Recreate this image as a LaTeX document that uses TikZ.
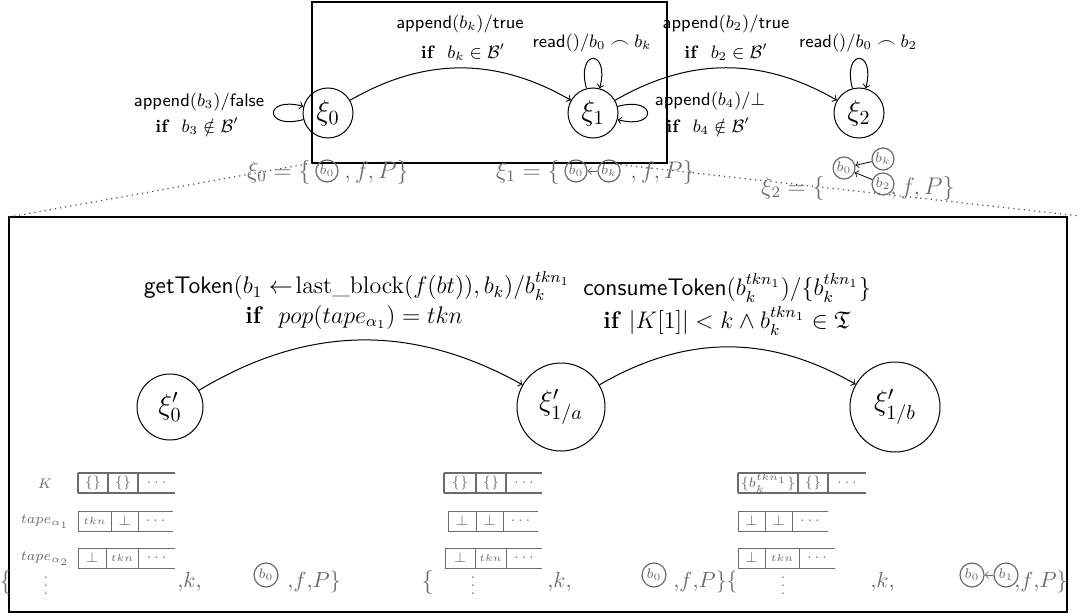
\documentclass[tikz,border=0pt]{standalone}
\usepackage{amssymb}
\definecolor{mygray}{gray}{0.42}
\newcommand{\tapeRow}[9]{%
  \draw[tapeline, line width=#8] (#1,#5-10) -- (#4,#5-10) (#1,#5+10) -- (#4,#5+10)
    (#1,#5-10) -- (#1,#5+10) (#2,#5-10) -- (#2,#5+10) (#3,#5-10) -- (#3,#5+10);
  \node[cell] (#9a) at ({(#1+#2)/2},#5) {#6};
  \node[cell] (#9b) at ({(#2+#3)/2},#5) {#7};
  \node[cell] (#9c) at ({(#3+#4)/2},#5) {$\dots$};
}
\begin{document}
\begin{tikzpicture}[x=0.5pt,y=-0.5pt,
  state/.style={circle,draw,line width=0.5pt,inner sep=0pt},
  topstate/.style={state,minimum size=25pt,font=\Large},
  bigstate/.style={state,font=\Large},
  toplab/.style={font=\small,inner sep=0pt},
  botlab/.style={font=\large,inner sep=0pt},
  setlab/.style={font=\large,text=mygray,inner sep=0pt},
  bsetlab/.style={font=\fontsize{10.95}{13}\selectfont,text=mygray,inner sep=0pt},
  mini/.style={circle,draw=mygray,text=mygray,line width=0.6pt,minimum size=11pt,inner sep=0pt,font=\scriptsize},
  bmini/.style={mini,minimum size=12pt},
  tapeline/.style={draw=mygray},
  cell/.style={text=mygray,font=\scriptsize,inner sep=0pt},
  tapelab/.style={text=mygray,font=\scriptsize,inner sep=0pt},
  frame/.style={line width=1.3pt},
  zoomline/.style={dotted,line width=0.6pt,draw=black!70},
  edge/.style={->,line width=0.5pt}
]
\useasboundingbox (0,0) rectangle (1080,615);

% frames and zoom lines
\draw[frame] (312,2) rectangle (667,163);
\draw[frame] (9,217) rectangle (1067,612);
\coordinate (zl1) at (312,163);
\coordinate (zl2) at (9,217);
\coordinate (zr1) at (605,163);
\coordinate (zr2) at (1080,216);
\draw[zoomline] (zl1) -- (zl2);
\draw[zoomline] (zr1) -- (zr2);

% top automaton
\node[topstate] (x0) at (328,113) {$\xi_0$};
\node[topstate] (x1) at (593,113) {$\xi_1$};
\node[topstate] (x2) at (859,113) {$\xi_2$};
\draw[edge] (x0) to[bend left=30] (x1);
\draw[edge] (x1) to[bend left=30] (x2);
\draw[edge] (x0) to[loop left] (x0);
\draw[edge] (x1) to[loop above] (x1);
\draw[edge] (x1) to[loop right] (x1);
\draw[edge] (x2) to[loop above] (x2);

\node[toplab] (l01a) at (460,24) {\textsf{append}$(b_k)/$\textsf{true}};
\node[toplab] (l01b) at (463,52) {\textbf{if}~~$b_k\in\mathcal{B}'$};
\node[toplab] (l00a) at (199,102) {\textsf{append}$(b_3)/$\textsf{false}};
\node[toplab] (l00b) at (197,126) {\textbf{if}~~$b_3\notin\mathcal{B}'$};
\node[toplab] (l11) at (592,43) {\textsf{read}$()/b_0\frown b_k$};
\node[toplab] (l12a) at (726,24) {\textsf{append}$(b_2)/$\textsf{true}};
\node[toplab] (l12b) at (726,52) {\textbf{if}~~$b_2\in\mathcal{B}'$};
\node[toplab] (l14a) at (710,101) {\textsf{append}$(b_4)/\bot$};
\node[toplab] (l14b) at (708,126) {\textbf{if}~~$b_4\notin\mathcal{B}'$};
\node[toplab] (l22) at (858,43) {\textsf{read}$()/b_0\frown b_2$};

% top state contents
\node[setlab,anchor=base east] (s0a) at (311,178) {$\xi_0=\{$};
\node[mini] (s0b0) at (327,171) {$b_0$};
\node[setlab,anchor=base west] (s0c) at (344,178) {$,f,P\}$};

\node[setlab,anchor=base east] (s1a) at (560,178) {$\xi_1=\{$};
\node[mini] (s1b0) at (576,171) {$b_0$};
\node[mini] (s1bk) at (609,171) {$b_k$};
\draw[->,mygray,line width=0.5pt] (s1bk) -- (s1b0);
\node[setlab,anchor=base west] (s1c) at (630,178) {$,f,P\}$};

\node[setlab,anchor=base east] (s2a) at (825,194) {$\xi_2=\{$};
\node[mini] (s2b0) at (844,168) {$b_0$};
\node[mini] (s2bk) at (883,159) {$b_k$};
\node[mini] (s2b2) at (883,184) {$b_2$};
\draw[->,line width=0.4pt] (s2bk) -- (s2b0);
\draw[->,line width=0.4pt] (s2b2) -- (s2b0);
\node[setlab,anchor=base east] (s2c) at (955,194) {$,f,P\}$};

% bottom automaton
\node[bigstate,minimum size=33pt] (y0) at (170,407) {$\xi'_0$};
\node[bigstate,minimum size=44pt] (y1) at (561,407) {$\xi'_{1/a}$};
\node[bigstate,minimum size=45pt] (y2) at (895,407) {$\xi'_{1/b}$};
\draw[edge] (y0) to[bend left=30] (y1);
\draw[edge] (y1) to[bend left=30] (y2);

\node[botlab] (e1a) at (357,286) {\textsf{getToken}$(b_1\leftarrow\!\mathrm{last\_block}(f(bt)),b_k)/b_k^{tkn_1}$};
\node[botlab] (e1b) at (354,317) {\textbf{if}~~$pop(tape_{\alpha_1})=tkn$};
\node[botlab] (e2a) at (727,288) {\textsf{consumeToken}$(b_k^{tkn_1})/\{b_k^{tkn_1}\}$};
\node[botlab] (e2b) at (727,321) {\textbf{if} $|K[1]|<k\wedge b_k^{tkn_1}\in\mathfrak{T}$};

% tape labels
\node[tapelab] (tlk) at (45,484) {$K$};
\node[tapelab] (tla1) at (45,522) {$tape_{\alpha_1}$};
\node[tapelab] (tla2) at (45,559) {$tape_{\alpha_2}$};
\node[tapelab] (tld) at (46,580) {$\vdots$};

% tapes column 1
\tapeRow{78}{108}{138}{175}{483}{$\{\}$}{$\{\}$}{0.9pt}{ka}
\tapeRow{78}{111}{138}{173}{521}{{\tiny$tkn$}}{$\bot$}{0.5pt}{pa}
\tapeRow{78}{106}{138}{175}{558}{$\bot$}{{\tiny$tkn$}}{0.5pt}{qa}
% tapes column 2
\tapeRow{444}{476}{506}{542}{483}{$\{\}$}{$\{\}$}{0.9pt}{kb}
\tapeRow{448}{476}{503}{538}{521}{$\bot$}{$\bot$}{0.5pt}{pb}
\tapeRow{445}{475}{506}{542}{558}{$\bot$}{{\tiny$tkn$}}{0.5pt}{qb}
\node[tapelab] (vdb) at (473,580) {$\vdots$};
% tapes column 3
\tapeRow{738}{798}{828}{866}{483}{$\{b_k^{tkn_1}\}$}{$\{\}$}{0.9pt}{kc}
\tapeRow{738}{765}{792}{828}{521}{$\bot$}{$\bot$}{0.5pt}{pc}
\tapeRow{738}{765}{799}{835}{558}{$\bot$}{{\tiny$tkn$}}{0.5pt}{qc}
\node[tapelab] (vdc) at (783,580) {$\vdots$};

% bottom state contents
\node[setlab,anchor=base east] (u0a) at (12,588) {$\{$};
\node[bsetlab,anchor=base west] (u0b) at (177,587) {${,}k{,}$};
\node[bmini] (u0c) at (266,575) {$b_0$};
\node[bsetlab,anchor=base west] (u0d) at (287,587) {${,}f{,}P\}$};

\node[setlab,anchor=base east] (u1a) at (434,588) {$\{$};
\node[bsetlab,anchor=base west] (u1b) at (547,587) {${,}k{,}$};
\node[bmini] (u1c) at (654,575) {$b_0$};
\node[bsetlab,anchor=base west] (u1d) at (673,587) {${,}f{,}P\}\{$};

\node[bsetlab,anchor=base west] (u2b) at (870,587) {${,}k{,}$};
\node[bmini] (u2c) at (972,575) {$b_0$};
\node[bmini] (u2d) at (1006,575) {$b_1$};
\draw[->,mygray,line width=0.5pt] (u2d) -- (u2c);
\node[bsetlab,anchor=base east] (u2e) at (1068,587) {${,}f{,}P\}$};
\end{tikzpicture}
\end{document}
